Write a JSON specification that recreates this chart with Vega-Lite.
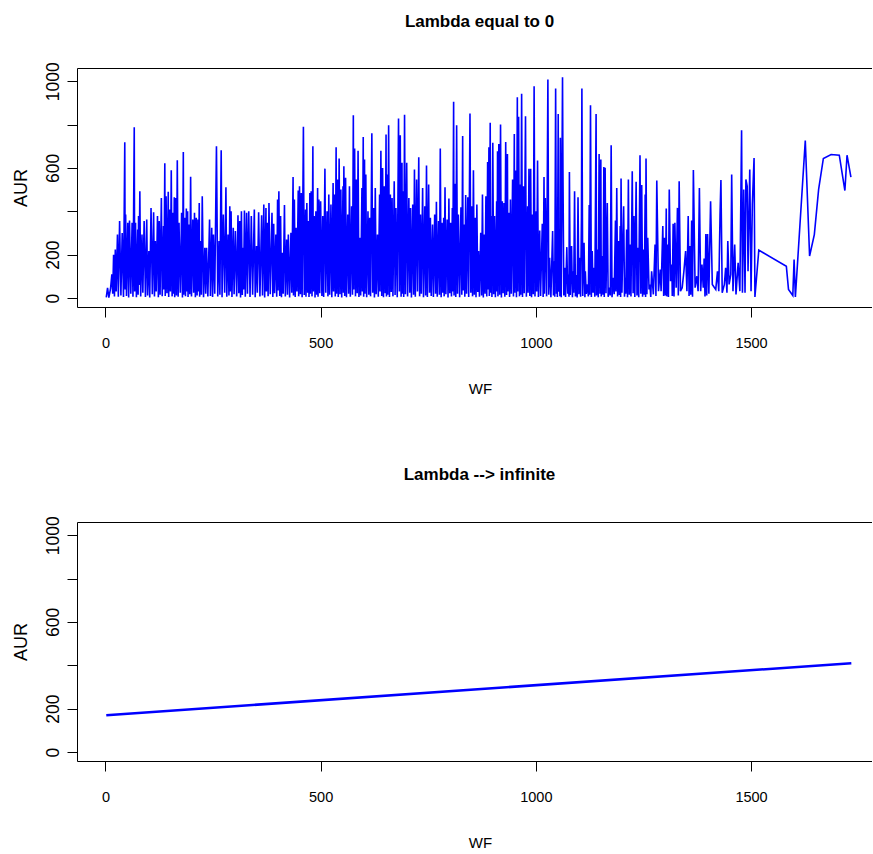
{
  "$schema": "https://vega.github.io/schema/vega-lite/v6.json",
  "autosize": {"type": "pad"},
  "padding": {"left": 12, "top": 12, "right": 0, "bottom": 0},
  "background": "white",
  "datasets": {
    "top": [
{"WF":2,"AUR":3},{"WF":5,"AUR":47},{"WF":8,"AUR":2},{"WF":12,"AUR":45},{"WF":15,"AUR":110},{"WF":17,"AUR":20},{"WF":19,"AUR":200},{"WF":21,"AUR":8},{"WF":23,"AUR":224},{"WF":25,"AUR":30},{"WF":28,"AUR":293},{"WF":30,"AUR":6},{"WF":33,"AUR":355},{"WF":36,"AUR":12},{"WF":39,"AUR":300},{"WF":42,"AUR":5},{"WF":45,"AUR":719},{"WF":46,"AUR":40},{"WF":47,"AUR":385},{"WF":49,"AUR":10},{"WF":52,"AUR":347},{"WF":54,"AUR":3},{"WF":56,"AUR":358},{"WF":59,"AUR":20},{"WF":62,"AUR":347},{"WF":64,"AUR":6},{"WF":67,"AUR":788},{"WF":68,"AUR":30},{"WF":70,"AUR":347},{"WF":72,"AUR":4},{"WF":75,"AUR":316},{"WF":76,"AUR":15},{"WF":77,"AUR":378},{"WF":78,"AUR":60},{"WF":80,"AUR":493},{"WF":82,"AUR":8},{"WF":85,"AUR":293},{"WF":87,"AUR":25},{"WF":90,"AUR":355},{"WF":93,"AUR":5},{"WF":96,"AUR":362},{"WF":98,"AUR":12},{"WF":101,"AUR":217},{"WF":103,"AUR":3},{"WF":106,"AUR":416},{"WF":109,"AUR":18},{"WF":112,"AUR":396},{"WF":114,"AUR":7},{"WF":116,"AUR":263},{"WF":118,"AUR":30},{"WF":121,"AUR":378},{"WF":123,"AUR":4},{"WF":125,"AUR":355},{"WF":127,"AUR":15},{"WF":130,"AUR":462},{"WF":132,"AUR":9},{"WF":135,"AUR":332},{"WF":136,"AUR":40},{"WF":138,"AUR":622},{"WF":139,"AUR":10},{"WF":141,"AUR":470},{"WF":143,"AUR":22},{"WF":146,"AUR":490},{"WF":147,"AUR":5},{"WF":149,"AUR":408},{"WF":151,"AUR":30},{"WF":153,"AUR":590},{"WF":155,"AUR":8},{"WF":157,"AUR":393},{"WF":158,"AUR":20},{"WF":160,"AUR":465},{"WF":161,"AUR":4},{"WF":163,"AUR":462},{"WF":165,"AUR":12},{"WF":167,"AUR":636},{"WF":169,"AUR":6},{"WF":171,"AUR":347},{"WF":174,"AUR":25},{"WF":177,"AUR":393},{"WF":179,"AUR":3},{"WF":181,"AUR":674},{"WF":182,"AUR":15},{"WF":184,"AUR":370},{"WF":186,"AUR":9},{"WF":188,"AUR":413},{"WF":189,"AUR":30},{"WF":191,"AUR":401},{"WF":192,"AUR":5},{"WF":194,"AUR":339},{"WF":196,"AUR":18},{"WF":198,"AUR":559},{"WF":200,"AUR":7},{"WF":203,"AUR":362},{"WF":205,"AUR":25},{"WF":207,"AUR":393},{"WF":209,"AUR":4},{"WF":211,"AUR":370},{"WF":213,"AUR":12},{"WF":215,"AUR":362},{"WF":216,"AUR":30},{"WF":218,"AUR":439},{"WF":219,"AUR":6},{"WF":221,"AUR":263},{"WF":223,"AUR":15},{"WF":225,"AUR":470},{"WF":228,"AUR":4},{"WF":231,"AUR":232},{"WF":233,"AUR":20},{"WF":235,"AUR":232},{"WF":238,"AUR":8},{"WF":242,"AUR":362},{"WF":244,"AUR":10},
{"WF":247,"AUR":324},{"WF":249,"AUR":5},{"WF":251,"AUR":293},{"WF":254,"AUR":20},{"WF":258,"AUR":700},{"WF":261,"AUR":8},{"WF":264,"AUR":263},{"WF":266,"AUR":15},{"WF":269,"AUR":682},{"WF":271,"AUR":4},{"WF":274,"AUR":385},{"WF":277,"AUR":25},{"WF":280,"AUR":511},{"WF":282,"AUR":6},{"WF":285,"AUR":293},{"WF":287,"AUR":12},{"WF":289,"AUR":424},{"WF":290,"AUR":30},{"WF":292,"AUR":401},{"WF":294,"AUR":5},{"WF":297,"AUR":324},{"WF":299,"AUR":18},{"WF":302,"AUR":309},{"WF":305,"AUR":7},{"WF":308,"AUR":382},{"WF":310,"AUR":22},{"WF":312,"AUR":355},{"WF":314,"AUR":3},{"WF":316,"AUR":401},{"WF":318,"AUR":14},{"WF":320,"AUR":232},{"WF":321,"AUR":40},{"WF":323,"AUR":404},{"WF":325,"AUR":6},{"WF":328,"AUR":393},{"WF":330,"AUR":20},{"WF":333,"AUR":401},{"WF":336,"AUR":5},{"WF":339,"AUR":378},{"WF":342,"AUR":15},{"WF":346,"AUR":409},{"WF":348,"AUR":4},{"WF":351,"AUR":240},{"WF":353,"AUR":25},{"WF":356,"AUR":396},{"WF":359,"AUR":8},{"WF":363,"AUR":382},{"WF":365,"AUR":12},{"WF":368,"AUR":432},{"WF":370,"AUR":3},{"WF":373,"AUR":416},{"WF":374,"AUR":30},{"WF":376,"AUR":347},{"WF":378,"AUR":9},{"WF":380,"AUR":439},{"WF":383,"AUR":18},{"WF":387,"AUR":393},{"WF":389,"AUR":5},{"WF":391,"AUR":343},{"WF":393,"AUR":22},{"WF":396,"AUR":293},{"WF":398,"AUR":6},{"WF":400,"AUR":455},{"WF":401,"AUR":35},{"WF":403,"AUR":493},{"WF":405,"AUR":10},{"WF":407,"AUR":378},{"WF":409,"AUR":4},{"WF":411,"AUR":209},{"WF":413,"AUR":20},{"WF":416,"AUR":429},{"WF":418,"AUR":7},{"WF":421,"AUR":270},{"WF":423,"AUR":16},{"WF":425,"AUR":293},{"WF":428,"AUR":3},{"WF":431,"AUR":301},{"WF":433,"AUR":25},{"WF":436,"AUR":558},{"WF":437,"AUR":12},{"WF":439,"AUR":455},{"WF":441,"AUR":5},{"WF":443,"AUR":324},{"WF":445,"AUR":30},{"WF":448,"AUR":496},{"WF":449,"AUR":8},{"WF":451,"AUR":516},{"WF":453,"AUR":18},{"WF":455,"AUR":485},{"WF":457,"AUR":4},{"WF":460,"AUR":790},{"WF":462,"AUR":14},{"WF":465,"AUR":409},{"WF":466,"AUR":6},{"WF":468,"AUR":439},{"WF":470,"AUR":25},{"WF":472,"AUR":355},{"WF":473,"AUR":5},{"WF":475,"AUR":485},{"WF":476,"AUR":20},{"WF":478,"AUR":493},{"WF":480,"AUR":8},{"WF":482,"AUR":700},{"WF":483,"AUR":30},{"WF":485,"AUR":378},{"WF":487,"AUR":3},{"WF":489,"AUR":401},{"WF":491,"AUR":15},{"WF":493,"AUR":508},{"WF":494,"AUR":6},{"WF":496,"AUR":455},{"WF":498,"AUR":22},{"WF":500,"AUR":447},{"WF":503,"AUR":10},
{"WF":505,"AUR":378},{"WF":507,"AUR":5},{"WF":510,"AUR":597},{"WF":512,"AUR":25},{"WF":515,"AUR":401},{"WF":517,"AUR":8},{"WF":519,"AUR":478},{"WF":521,"AUR":15},{"WF":524,"AUR":432},{"WF":526,"AUR":4},{"WF":529,"AUR":531},{"WF":530,"AUR":30},{"WF":532,"AUR":478},{"WF":534,"AUR":7},{"WF":536,"AUR":696},{"WF":537,"AUR":20},{"WF":539,"AUR":547},{"WF":541,"AUR":5},{"WF":543,"AUR":644},{"WF":545,"AUR":18},{"WF":547,"AUR":501},{"WF":549,"AUR":3},{"WF":552,"AUR":516},{"WF":553,"AUR":25},{"WF":554,"AUR":608},{"WF":556,"AUR":10},{"WF":558,"AUR":555},{"WF":560,"AUR":4},{"WF":563,"AUR":385},{"WF":565,"AUR":20},{"WF":567,"AUR":516},{"WF":569,"AUR":6},{"WF":572,"AUR":424},{"WF":574,"AUR":15},{"WF":576,"AUR":843},{"WF":577,"AUR":40},{"WF":579,"AUR":690},{"WF":581,"AUR":8},{"WF":583,"AUR":547},{"WF":585,"AUR":22},{"WF":587,"AUR":680},{"WF":589,"AUR":5},{"WF":591,"AUR":278},{"WF":593,"AUR":12},{"WF":596,"AUR":508},{"WF":597,"AUR":30},{"WF":599,"AUR":743},{"WF":600,"AUR":6},{"WF":602,"AUR":639},{"WF":603,"AUR":20},{"WF":605,"AUR":570},{"WF":607,"AUR":4},{"WF":610,"AUR":401},{"WF":612,"AUR":15},{"WF":614,"AUR":370},{"WF":616,"AUR":8},{"WF":619,"AUR":760},{"WF":621,"AUR":25},{"WF":623,"AUR":416},{"WF":625,"AUR":3},{"WF":627,"AUR":508},{"WF":629,"AUR":18},{"WF":632,"AUR":293},{"WF":634,"AUR":6},{"WF":637,"AUR":478},{"WF":638,"AUR":30},{"WF":640,"AUR":680},{"WF":642,"AUR":10},{"WF":644,"AUR":600},{"WF":646,"AUR":4},{"WF":648,"AUR":516},{"WF":650,"AUR":22},{"WF":652,"AUR":754},{"WF":653,"AUR":7},{"WF":654,"AUR":570},{"WF":656,"AUR":15},{"WF":658,"AUR":797},{"WF":660,"AUR":5},{"WF":662,"AUR":478},{"WF":664,"AUR":28},{"WF":666,"AUR":462},{"WF":668,"AUR":8},{"WF":671,"AUR":539},{"WF":673,"AUR":14},{"WF":675,"AUR":416},{"WF":678,"AUR":4},{"WF":681,"AUR":828},{"WF":683,"AUR":30},{"WF":685,"AUR":751},{"WF":687,"AUR":6},{"WF":689,"AUR":624},{"WF":690,"AUR":20},{"WF":692,"AUR":493},{"WF":693,"AUR":5},{"WF":695,"AUR":846},{"WF":697,"AUR":18},{"WF":700,"AUR":624},{"WF":702,"AUR":7},{"WF":705,"AUR":462},{"WF":707,"AUR":25},{"WF":709,"AUR":416},{"WF":711,"AUR":3},{"WF":714,"AUR":432},{"WF":716,"AUR":15},{"WF":718,"AUR":593},{"WF":720,"AUR":6},{"WF":723,"AUR":547},{"WF":725,"AUR":30},{"WF":728,"AUR":650},{"WF":730,"AUR":8},{"WF":732,"AUR":385},{"WF":734,"AUR":20},{"WF":737,"AUR":508},{"WF":739,"AUR":4},{"WF":742,"AUR":424},{"WF":744,"AUR":12},{"WF":746,"AUR":611},{"WF":748,"AUR":5},{"WF":751,"AUR":524},{"WF":753,"AUR":25},{"WF":755,"AUR":370},
{"WF":757,"AUR":10},{"WF":760,"AUR":339},{"WF":762,"AUR":5},{"WF":765,"AUR":385},{"WF":767,"AUR":20},{"WF":769,"AUR":444},{"WF":771,"AUR":6},{"WF":774,"AUR":355},{"WF":776,"AUR":15},{"WF":778,"AUR":690},{"WF":780,"AUR":4},{"WF":782,"AUR":347},{"WF":784,"AUR":25},{"WF":786,"AUR":370},{"WF":787,"AUR":8},{"WF":789,"AUR":511},{"WF":791,"AUR":18},{"WF":794,"AUR":362},{"WF":796,"AUR":3},{"WF":798,"AUR":459},{"WF":800,"AUR":22},{"WF":802,"AUR":347},{"WF":804,"AUR":7},{"WF":806,"AUR":416},{"WF":807,"AUR":30},{"WF":809,"AUR":905},{"WF":810,"AUR":12},{"WF":812,"AUR":527},{"WF":814,"AUR":5},{"WF":816,"AUR":797},{"WF":818,"AUR":20},{"WF":820,"AUR":385},{"WF":823,"AUR":4},{"WF":826,"AUR":419},{"WF":828,"AUR":15},{"WF":830,"AUR":747},{"WF":831,"AUR":35},{"WF":833,"AUR":339},{"WF":835,"AUR":6},{"WF":837,"AUR":475},{"WF":839,"AUR":20},{"WF":842,"AUR":465},{"WF":844,"AUR":5},{"WF":847,"AUR":851},{"WF":849,"AUR":25},{"WF":851,"AUR":424},{"WF":853,"AUR":8},{"WF":855,"AUR":590},{"WF":857,"AUR":16},{"WF":859,"AUR":370},{"WF":861,"AUR":4},{"WF":863,"AUR":432},{"WF":865,"AUR":28},{"WF":867,"AUR":217},{"WF":869,"AUR":6},{"WF":872,"AUR":301},{"WF":874,"AUR":12},{"WF":876,"AUR":478},{"WF":878,"AUR":3},{"WF":880,"AUR":293},{"WF":882,"AUR":20},{"WF":884,"AUR":470},{"WF":886,"AUR":7},{"WF":888,"AUR":628},{"WF":889,"AUR":40},{"WF":891,"AUR":696},{"WF":892,"AUR":10},{"WF":894,"AUR":808},{"WF":895,"AUR":25},{"WF":897,"AUR":378},{"WF":898,"AUR":5},{"WF":900,"AUR":716},{"WF":902,"AUR":18},{"WF":904,"AUR":378},{"WF":906,"AUR":4},{"WF":909,"AUR":447},{"WF":910,"AUR":30},{"WF":911,"AUR":677},{"WF":912,"AUR":8},{"WF":914,"AUR":711},{"WF":916,"AUR":15},{"WF":918,"AUR":800},{"WF":920,"AUR":3},{"WF":922,"AUR":447},{"WF":924,"AUR":22},{"WF":926,"AUR":439},{"WF":928,"AUR":6},{"WF":930,"AUR":720},{"WF":932,"AUR":14},{"WF":934,"AUR":665},{"WF":935,"AUR":30},{"WF":937,"AUR":393},{"WF":939,"AUR":5},{"WF":941,"AUR":455},{"WF":943,"AUR":20},{"WF":946,"AUR":547},{"WF":948,"AUR":7},{"WF":950,"AUR":757},{"WF":951,"AUR":25},{"WF":953,"AUR":588},{"WF":955,"AUR":4},{"WF":957,"AUR":926},{"WF":958,"AUR":30},{"WF":960,"AUR":836},{"WF":962,"AUR":8},{"WF":964,"AUR":524},{"WF":965,"AUR":15},{"WF":967,"AUR":942},{"WF":969,"AUR":5},{"WF":971,"AUR":516},{"WF":973,"AUR":22},{"WF":975,"AUR":593},{"WF":976,"AUR":839},{"WF":978,"AUR":6},{"WF":981,"AUR":424},{"WF":982,"AUR":25},{"WF":984,"AUR":597},{"WF":986,"AUR":10},{"WF":988,"AUR":597},{"WF":990,"AUR":4},{"WF":992,"AUR":385},{"WF":994,"AUR":18},{"WF":996,"AUR":977},{"WF":998,"AUR":7},{"WF":1001,"AUR":401},{"WF":1002,"AUR":30},{"WF":1004,"AUR":634},{"WF":1006,"AUR":5},{"WF":1009,"AUR":312},
{"WF":1011,"AUR":10},{"WF":1015,"AUR":343},{"WF":1017,"AUR":5},{"WF":1019,"AUR":558},{"WF":1020,"AUR":20},{"WF":1022,"AUR":462},{"WF":1025,"AUR":8},{"WF":1028,"AUR":1008},{"WF":1030,"AUR":15},{"WF":1032,"AUR":186},{"WF":1035,"AUR":4},{"WF":1039,"AUR":309},{"WF":1041,"AUR":12},{"WF":1043,"AUR":170},{"WF":1044,"AUR":6},{"WF":1046,"AUR":966},{"WF":1048,"AUR":20},{"WF":1049,"AUR":124},{"WF":1050,"AUR":5},{"WF":1052,"AUR":849},{"WF":1053,"AUR":30},{"WF":1055,"AUR":155},{"WF":1056,"AUR":8},{"WF":1057,"AUR":739},{"WF":1059,"AUR":4},{"WF":1062,"AUR":1018},{"WF":1063,"AUR":585},{"WF":1065,"AUR":12},{"WF":1067,"AUR":140},{"WF":1069,"AUR":5},{"WF":1072,"AUR":235},{"WF":1074,"AUR":20},{"WF":1076,"AUR":109},{"WF":1077,"AUR":6},{"WF":1078,"AUR":582},{"WF":1080,"AUR":15},{"WF":1083,"AUR":240},{"WF":1085,"AUR":4},{"WF":1087,"AUR":124},{"WF":1088,"AUR":25},{"WF":1090,"AUR":493},{"WF":1092,"AUR":8},{"WF":1094,"AUR":106},{"WF":1096,"AUR":3},{"WF":1098,"AUR":465},{"WF":1100,"AUR":18},{"WF":1103,"AUR":186},{"WF":1104,"AUR":6},{"WF":1106,"AUR":373},{"WF":1107,"AUR":966},{"WF":1109,"AUR":10},{"WF":1112,"AUR":255},{"WF":1114,"AUR":4},{"WF":1115,"AUR":124},{"WF":1117,"AUR":20},{"WF":1120,"AUR":63},{"WF":1122,"AUR":8},{"WF":1124,"AUR":429},{"WF":1125,"AUR":15},{"WF":1127,"AUR":889},{"WF":1129,"AUR":5},{"WF":1131,"AUR":217},{"WF":1133,"AUR":25},{"WF":1135,"AUR":140},{"WF":1137,"AUR":6},{"WF":1140,"AUR":849},{"WF":1141,"AUR":12},{"WF":1143,"AUR":224},{"WF":1145,"AUR":4},{"WF":1147,"AUR":665},{"WF":1149,"AUR":20},{"WF":1151,"AUR":639},{"WF":1152,"AUR":8},{"WF":1154,"AUR":194},{"WF":1156,"AUR":15},{"WF":1158,"AUR":604},{"WF":1159,"AUR":5},{"WF":1161,"AUR":601},{"WF":1163,"AUR":22},{"WF":1166,"AUR":439},{"WF":1168,"AUR":6},{"WF":1171,"AUR":48},{"WF":1173,"AUR":12},{"WF":1175,"AUR":705},{"WF":1177,"AUR":4},{"WF":1180,"AUR":94},{"WF":1182,"AUR":18},{"WF":1185,"AUR":358},{"WF":1186,"AUR":30},{"WF":1188,"AUR":508},{"WF":1190,"AUR":7},{"WF":1192,"AUR":263},{"WF":1194,"AUR":14},{"WF":1196,"AUR":332},{"WF":1197,"AUR":5},{"WF":1198,"AUR":551},{"WF":1200,"AUR":25},{"WF":1204,"AUR":424},{"WF":1206,"AUR":6},{"WF":1208,"AUR":94},{"WF":1209,"AUR":20},{"WF":1211,"AUR":316},{"WF":1213,"AUR":4},{"WF":1215,"AUR":547},{"WF":1217,"AUR":15},{"WF":1219,"AUR":247},{"WF":1221,"AUR":8},{"WF":1224,"AUR":585},{"WF":1226,"AUR":22},{"WF":1228,"AUR":378},{"WF":1230,"AUR":5},{"WF":1233,"AUR":536},{"WF":1235,"AUR":12},{"WF":1237,"AUR":232},{"WF":1239,"AUR":4},{"WF":1242,"AUR":659},{"WF":1244,"AUR":20},{"WF":1246,"AUR":521},{"WF":1248,"AUR":6},{"WF":1250,"AUR":224},{"WF":1252,"AUR":15},{"WF":1254,"AUR":478},{"WF":1255,"AUR":5},{"WF":1256,"AUR":644},{"WF":1258,"AUR":18},{"WF":1260,"AUR":278},{"WF":1263,"AUR":40},
{"WF":1265,"AUR":63},{"WF":1267,"AUR":5},{"WF":1269,"AUR":124},{"WF":1273,"AUR":17},{"WF":1277,"AUR":247},{"WF":1279,"AUR":10},{"WF":1281,"AUR":542},{"WF":1285,"AUR":32},{"WF":1289,"AUR":132},{"WF":1291,"AUR":32},{"WF":1295,"AUR":332},{"WF":1297,"AUR":10},{"WF":1299,"AUR":278},{"WF":1301,"AUR":12},{"WF":1303,"AUR":413},{"WF":1304,"AUR":8},{"WF":1306,"AUR":247},{"WF":1308,"AUR":5},{"WF":1310,"AUR":501},{"WF":1313,"AUR":78},{"WF":1316,"AUR":155},{"WF":1317,"AUR":10},{"WF":1319,"AUR":343},{"WF":1321,"AUR":8},{"WF":1323,"AUR":347},{"WF":1326,"AUR":48},{"WF":1329,"AUR":416},{"WF":1331,"AUR":12},{"WF":1333,"AUR":539},{"WF":1336,"AUR":32},{"WF":1340,"AUR":48},{"WF":1344,"AUR":124},{"WF":1348,"AUR":217},{"WF":1351,"AUR":32},{"WF":1354,"AUR":378},{"WF":1356,"AUR":10},{"WF":1358,"AUR":240},{"WF":1360,"AUR":15},{"WF":1362,"AUR":358},{"WF":1364,"AUR":6},{"WF":1366,"AUR":591},{"WF":1370,"AUR":48},{"WF":1374,"AUR":101},{"WF":1377,"AUR":32},{"WF":1380,"AUR":508},{"WF":1383,"AUR":32},{"WF":1386,"AUR":155},{"WF":1389,"AUR":48},{"WF":1391,"AUR":183},{"WF":1393,"AUR":8},{"WF":1395,"AUR":296},{"WF":1397,"AUR":12},{"WF":1399,"AUR":296},{"WF":1402,"AUR":20},{"WF":1406,"AUR":447},{"WF":1410,"AUR":63},{"WF":1414,"AUR":51},{"WF":1418,"AUR":40},{"WF":1422,"AUR":124},{"WF":1425,"AUR":32},{"WF":1428,"AUR":389},{"WF":1430,"AUR":545},{"WF":1433,"AUR":25},{"WF":1438,"AUR":63},{"WF":1441,"AUR":140},{"WF":1444,"AUR":25},{"WF":1446,"AUR":263},{"WF":1449,"AUR":63},{"WF":1453,"AUR":109},{"WF":1455,"AUR":570},{"WF":1458,"AUR":32},{"WF":1462,"AUR":247},{"WF":1465,"AUR":17},{"WF":1470,"AUR":163},{"WF":1474,"AUR":32},{"WF":1478,"AUR":774},{"WF":1480,"AUR":25},{"WF":1483,"AUR":501},{"WF":1486,"AUR":25},{"WF":1488,"AUR":547},{"WF":1491,"AUR":516},{"WF":1493,"AUR":124},{"WF":1497,"AUR":593},{"WF":1500,"AUR":32},{"WF":1503,"AUR":432},{"WF":1507,"AUR":646},{"WF":1509,"AUR":5},{"WF":1518,"AUR":221},{"WF":1582,"AUR":147},{"WF":1587,"AUR":40},{"WF":1597,"AUR":12},{"WF":1600,"AUR":178},{"WF":1603,"AUR":5},{"WF":1626,"AUR":727},{"WF":1636,"AUR":194},{"WF":1647,"AUR":293},{"WF":1657,"AUR":501},{"WF":1668,"AUR":644},{"WF":1686,"AUR":662},{"WF":1705,"AUR":659},{"WF":1718,"AUR":496},{"WF":1723,"AUR":659},{"WF":1732,"AUR":558}
    ],
    "bottom": [
      {"WF": 2, "AUR": 170},
      {"WF": 1733, "AUR": 410}
    ]
  },
  "spacing": 215,
  "bounds": "flush",
  "vconcat": [
    {
      "width": 795,
      "height": 239,
      "title": {"text": "Lambda equal to 0", "font": "Liberation Sans", "fontWeight": "bold", "fontSize": 17, "anchor": "middle", "dx": 5, "offset": 18, "baseline": "alphabetic", "color": "black"},
      "resolve": {"axis": {"x": "independent"}},
      "layer": [
        {
          "data": {"name": "top"},
          "mark": {"type": "line", "color": "#0000FF", "strokeWidth": 1.6, "clip": true},
          "encoding": {
            "x": {"field": "WF", "type": "quantitative", "scale": {"domain": [-66, 1781], "nice": false, "zero": false},
              "axis": {"orient": "bottom", "values": [0, 500, 1000, 1500], "format": "d", "title": "WF", "domain": true, "labelFont": "Liberation Sans", "labelFontSize": 14.5, "labelPadding": 19, "labelBaseline": "top", "titleFont": "Liberation Sans", "titleFontSize": 15, "titleFontWeight": "normal", "titleX": 403, "titleY": 86, "titleBaseline": "alphabetic", "titleAlign": "center"}},
            "y": {"field": "AUR", "type": "quantitative", "scale": {"domain": [-41, 1061], "nice": false, "zero": false},
              "axis": {"values": [0, 200, 400, 600, 800, 1000], "format": "d", "labelExpr": "datum.value == 400 || datum.value == 800 ? '' : datum.label", "title": "AUR", "labelAngle": -90, "labelAlign": "center", "labelBaseline": "alphabetic", "labelPadding": 9, "labelFont": "Liberation Sans", "labelFontSize": 17.5, "titleFont": "Liberation Sans", "titleFontSize": 18, "titleFontWeight": "normal", "titleAngle": -90, "titleX": -51, "titleY": 119.5, "titleBaseline": "alphabetic", "titleAlign": "center"}}
          }
        },
        {
          "data": {"name": "top"},
          "mark": {"type": "line", "opacity": 0},
          "encoding": {
            "x": {"field": "WF", "type": "quantitative", "axis": {"orient": "top", "labels": false, "ticks": false, "domain": true, "title": null}},
            "y": {"field": "AUR", "type": "quantitative"}
          }
        }
      ]
    },
    {
      "width": 795,
      "height": 239,
      "title": {"text": "Lambda --> infinite", "font": "Liberation Sans", "fontWeight": "bold", "fontSize": 17, "anchor": "middle", "dx": 5, "offset": 19, "baseline": "alphabetic", "color": "black"},
      "resolve": {"axis": {"x": "independent"}},
      "layer": [
        {
          "data": {"name": "bottom"},
          "mark": {"type": "line", "color": "#0000FF", "strokeWidth": 2.6, "clip": true},
          "encoding": {
            "x": {"field": "WF", "type": "quantitative", "scale": {"domain": [-66, 1781], "nice": false, "zero": false},
              "axis": {"orient": "bottom", "values": [0, 500, 1000, 1500], "format": "d", "title": "WF", "domain": true, "labelFont": "Liberation Sans", "labelFontSize": 14.5, "labelPadding": 19, "labelBaseline": "top", "titleFont": "Liberation Sans", "titleFontSize": 15, "titleFontWeight": "normal", "titleX": 403, "titleY": 86, "titleBaseline": "alphabetic", "titleAlign": "center"}},
            "y": {"field": "AUR", "type": "quantitative", "scale": {"domain": [-41, 1061], "nice": false, "zero": false},
              "axis": {"values": [0, 200, 400, 600, 800, 1000], "format": "d", "labelExpr": "datum.value == 400 || datum.value == 800 ? '' : datum.label", "title": "AUR", "labelAngle": -90, "labelAlign": "center", "labelBaseline": "alphabetic", "labelPadding": 9, "labelFont": "Liberation Sans", "labelFontSize": 17.5, "titleFont": "Liberation Sans", "titleFontSize": 18, "titleFontWeight": "normal", "titleAngle": -90, "titleX": -51, "titleY": 119.5, "titleBaseline": "alphabetic", "titleAlign": "center"}}
          }
        },
        {
          "data": {"name": "bottom"},
          "mark": {"type": "line", "opacity": 0},
          "encoding": {
            "x": {"field": "WF", "type": "quantitative", "axis": {"orient": "top", "labels": false, "ticks": false, "domain": true, "title": null}},
            "y": {"field": "AUR", "type": "quantitative"}
          }
        }
      ]
    }
  ],
  "config": {
    "view": {"stroke": null},
    "axis": {"grid": false, "domainColor": "#000", "tickColor": "#000", "labelColor": "#000", "titleColor": "#000", "domainWidth": 1, "tickWidth": 1, "tickSize": 10},
    "font": "Liberation Sans"
  }
}
